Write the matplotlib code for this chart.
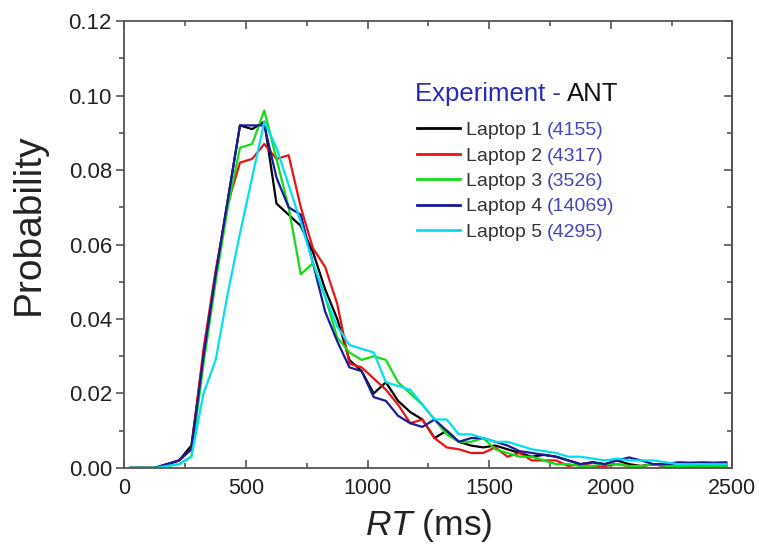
import numpy as np
import matplotlib
matplotlib.use("Agg")
import matplotlib.pyplot as plt
from matplotlib.ticker import MultipleLocator

# --- Data (50 ms bins) ---
rt_bins = np.arange(25, 2500, 50)

laptop1 = [0, 0, 0, 0.001, 0.002, 0.006, 0.030, 0.052, 0.072, 0.092,
           0.091, 0.093, 0.071, 0.068, 0.065, 0.058, 0.048, 0.040, 0.029, 0.026,
           0.020, 0.023, 0.018, 0.015, 0.013, 0.008, 0.010, 0.007, 0.006, 0.0055,
           0.006, 0.005, 0.004, 0.003, 0.0035, 0.003, 0.002, 0.001, 0.0015, 0.001,
           0.002, 0.001, 0.0005, 0.001, 0.001, 0.0005, 0.001, 0.0005, 0.001, 0.001]
laptop2 = [0, 0, 0, 0.001, 0.002, 0.005, 0.032, 0.053, 0.071, 0.082,
           0.083, 0.087, 0.083, 0.084, 0.070, 0.059, 0.054, 0.044, 0.028, 0.027,
           0.024, 0.021, 0.017, 0.012, 0.013, 0.008, 0.0055, 0.005, 0.004, 0.004,
           0.0055, 0.003, 0.004, 0.002, 0.002, 0.002, 0.0005, 0.001, 0.0005, 0.0005,
           0.001, 0.0005, 0.0005, 0.001, 0.0003, 0.0005, 0.0003, 0.0005, 0.0003, 0.0005]
laptop3 = [0, 0, 0, 0.0005, 0.001, 0.003, 0.028, 0.050, 0.070, 0.086,
           0.087, 0.096, 0.083, 0.070, 0.052, 0.055, 0.046, 0.035, 0.031, 0.029,
           0.030, 0.029, 0.023, 0.020, 0.017, 0.013, 0.009, 0.007, 0.007, 0.008,
           0.005, 0.004, 0.003, 0.003, 0.002, 0.001, 0.001, 0.0005, 0.0005, 0.001,
           0.001, 0.0005, 0.0005, 0.001, 0.0005, 0.0005, 0.0005, 0.0003, 0.0005, 0.0003]
laptop4 = [0, 0, 0, 0.001, 0.002, 0.005, 0.030, 0.052, 0.072, 0.092,
           0.092, 0.092, 0.078, 0.070, 0.068, 0.055, 0.042, 0.034, 0.027, 0.026,
           0.019, 0.018, 0.014, 0.012, 0.011, 0.013, 0.010, 0.007, 0.008, 0.008,
           0.007, 0.006, 0.0045, 0.004, 0.0035, 0.003, 0.002, 0.001, 0.0015, 0.001,
           0.002, 0.0028, 0.002, 0.001, 0.001, 0.0015, 0.0014, 0.0015, 0.0014, 0.0015]
laptop5 = [0, 0, 0, 0.0005, 0.001, 0.003, 0.020, 0.029, 0.047, 0.063,
           0.078, 0.093, 0.086, 0.076, 0.066, 0.055, 0.046, 0.038, 0.033, 0.032,
           0.031, 0.023, 0.022, 0.021, 0.017, 0.013, 0.013, 0.009, 0.009, 0.008,
           0.007, 0.007, 0.006, 0.005, 0.0045, 0.004, 0.003, 0.003, 0.0025, 0.002,
           0.0025, 0.002, 0.002, 0.002, 0.0015, 0.001, 0.001, 0.001, 0.001, 0.001]

series = [laptop1, laptop2, laptop3, laptop4, laptop5]
labels = ["Laptop 1", "Laptop 2", "Laptop 3", "Laptop 4", "Laptop 5"]
counts = ["(4155)", "(4317)", "(3526)", "(14069)", "(4295)"]
colors = ["#000000", "#ee1111", "#11dd11", "#1a1a9a", "#00e0f0"]

plt.rcParams["font.family"] = ["Liberation Sans", "DejaVu Sans"]
plt.rcParams["mathtext.fontset"] = "custom"
plt.rcParams["mathtext.it"] = "Liberation Sans:italic"
plt.rcParams["mathtext.rm"] = "Liberation Sans"

fig = plt.figure(figsize=(7.59, 5.57), dpi=100)
ax = fig.add_axes([0.164, 0.16, 0.801, 0.802])

for vals, lab, col in zip(series, labels, colors):
    ax.plot(rt_bins, vals, color=col, lw=1.6, label=lab)

ax.set_xlim(0, 2500)
ax.set_ylim(0, 0.12)
ax.xaxis.set_major_locator(MultipleLocator(500))
ax.xaxis.set_minor_locator(MultipleLocator(250))
ax.yaxis.set_major_locator(MultipleLocator(0.02))
ax.yaxis.set_minor_locator(MultipleLocator(0.01))
ax.yaxis.set_major_formatter(plt.FuncFormatter(lambda v, p: f"{v:.2f}"))

for sp in ax.spines.values():
    sp.set_color("#555555")
    sp.set_linewidth(1.3)

ax.tick_params(axis="x", which="both", direction="in", top=True, colors="#555555",
               labelcolor="#222222", labelsize=15.5, pad=7)
ax.tick_params(axis="x", which="major", length=6, width=1.2)
ax.tick_params(axis="x", which="minor", length=3.5, width=1.2)
ax.tick_params(axis="y", which="both", direction="out", right=False, colors="#555555",
               labelcolor="#222222", labelsize=16, pad=3)
ax.tick_params(axis="y", which="major", length=6, width=1.2)
ax.tick_params(axis="y", which="minor", length=3.5, width=1.2)
# inward ticks on the right frame
sec = ax.secondary_yaxis("right")
sec.yaxis.set_major_locator(MultipleLocator(0.02))
sec.yaxis.set_minor_locator(MultipleLocator(0.01))
sec.tick_params(which="both", direction="in", labelright=False, colors="#555555")
sec.tick_params(which="major", length=6, width=1.2)
sec.tick_params(which="minor", length=3.5, width=1.2)
sec.spines["right"].set_color("#555555")
sec.spines["right"].set_linewidth(1.3)

ax.set_xlabel(r"$RT$ (ms)", fontsize=25.5, color="#222222", labelpad=6)
ax.set_ylabel("Probability", fontsize=28, color="#222222")
ax.yaxis.set_label_coords(-0.128, 0.545)

leg = ax.legend(loc="upper left", bbox_to_anchor=(0.481, 0.775), frameon=False,
                fontsize=14, handlelength=2.2, handletextpad=0.3,
                labelspacing=0.4, borderaxespad=0, borderpad=0)
for t in leg.get_texts():
    t.set_color("#333333")
for h in leg.get_lines():
    h.set_linewidth(2)

title = ax.text(0.478, 0.838, "Experiment -", transform=ax.transAxes,
                fontsize=18.5, color="#2a2ab8", va="center", ha="left")
ax.annotate("ANT", xy=(1, 0), xycoords=title, xytext=(4, 0),
            textcoords="offset points", fontsize=18.5, color="#111111",
            va="bottom", ha="left")
for t, c in zip(leg.get_texts(), counts):
    ax.annotate(c, xy=(1, 0), xycoords=t, xytext=(3.5, 0),
                textcoords="offset points", fontsize=14, color="#4545c0",
                va="bottom", ha="left", zorder=10)

fig.savefig("out.png", dpi=100)
